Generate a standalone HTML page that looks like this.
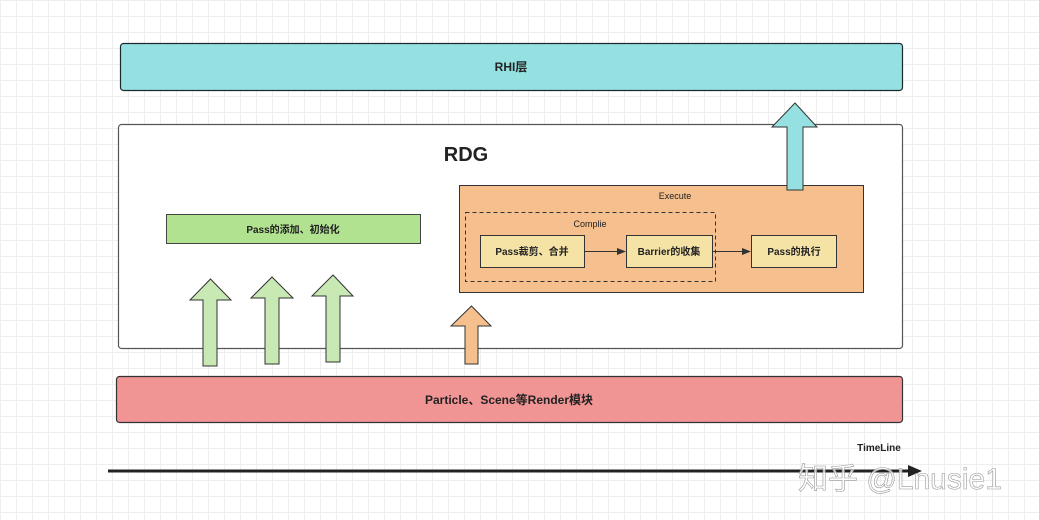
<!DOCTYPE html>
<html><head><meta charset="utf-8"><style>
html,body{margin:0;padding:0;background:#fff;}
body{width:1039px;height:520px;overflow:hidden;
background-image:linear-gradient(#eeeeee 1px,transparent 1px),linear-gradient(90deg,#eeeeee 1px,transparent 1px);
background-size:16px 16px;}
text{font-family:"Liberation Sans","Noto Sans CJK SC",sans-serif;font-weight:bold;fill:#222;}
</style></head><body>
<svg width="1039" height="520" viewBox="0 0 1039 520" xmlns="http://www.w3.org/2000/svg" style="position:absolute;left:0;top:0">
<rect x="120.5" y="43.5" width="782" height="47" rx="3" fill="#95e0e0" stroke="#1a2a30" stroke-width="1.2"/>
<text x="511" y="71" font-size="12" text-anchor="middle">RHI层</text>
<rect x="118.5" y="124.5" width="784" height="224" rx="3" fill="#fff" stroke="#555" stroke-width="1.2"/>
<text x="466" y="161" font-size="20" text-anchor="middle">RDG</text>
<rect x="166.5" y="214.5" width="254" height="29" fill="#b0e290" stroke="#444"/>
<text x="293" y="233" font-size="10" text-anchor="middle">Pass的添加、初始化</text>
<rect x="459.5" y="185.5" width="404" height="107" fill="#f5c08e" stroke="#333"/>
<text x="675" y="199" font-size="9" text-anchor="middle" style="font-weight:normal">Execute</text>
<rect x="465.5" y="212.5" width="250" height="69" fill="none" stroke="#333" stroke-dasharray="4,3"/>
<text x="590" y="227" font-size="9" text-anchor="middle" style="font-weight:normal">Complie</text>
<rect x="480.5" y="235.5" width="104" height="32" fill="#f5e3a6" stroke="#333"/>
<text x="532" y="255" font-size="10" text-anchor="middle">Pass裁剪、合并</text>
<rect x="626.5" y="235.5" width="86" height="32" fill="#f5e3a6" stroke="#333"/>
<text x="669" y="255" font-size="10" text-anchor="middle">Barrier的收集</text>
<rect x="751.5" y="235.5" width="85" height="32" fill="#f5e3a6" stroke="#333"/>
<text x="794" y="255" font-size="10" text-anchor="middle">Pass的执行</text>
<line x1="585" y1="251.5" x2="618" y2="251.5" stroke="#333"/>
<polygon points="626,251.5 617,248 617,255" fill="#333"/>
<line x1="713" y1="251.5" x2="743" y2="251.5" stroke="#333"/>
<polygon points="751,251.5 742,248 742,255" fill="#333"/>
<rect x="116.5" y="376.5" width="786" height="46" rx="3" fill="#f09494" stroke="#333" stroke-width="1.2"/>
<text x="509" y="404" font-size="12" text-anchor="middle">Particle、Scene等Render模块</text>
<g stroke="#333" stroke-width="1">
<polygon points="210.5,279 231,300 217,300 217,366 203,366 203,300 190,300" fill="#c8e8b4"/>
<polygon points="272,277 293,298 279,298 279,364 265,364 265,298 251,298" fill="#c8e8b4"/>
<polygon points="333,275 353,296 340,296 340,362 326,362 326,296 312,296" fill="#c8e8b4"/>
<polygon points="471.5,306 491,326 478,326 478,364 465,364 465,326 451,326" fill="#f5c08e"/>
<polygon points="795,103 817,127 803,127 803,190 787,190 787,127 772,127" fill="#95e0e0"/>
</g>
<line x1="108" y1="471" x2="910" y2="471" stroke="#222" stroke-width="3"/>
<polygon points="922,471 908,465 908,477" fill="#222"/>
<text x="879" y="451" font-size="10" text-anchor="middle">TimeLine</text>
<text x="798" y="489" font-size="30" style="font-weight:normal;fill:rgba(255,255,255,0.75);stroke:#999;stroke-width:0.6">知乎 @Lnusie1</text>
</svg>
</body></html>
